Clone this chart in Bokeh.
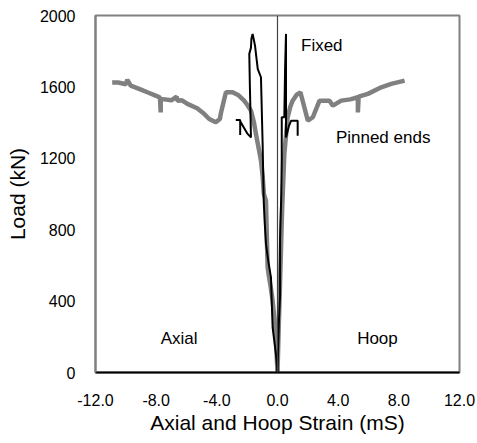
from bokeh.plotting import figure
from bokeh.models import Range1d, Span, Label, FixedTicker
from bokeh.embed import file_html
from bokeh.resources import INLINE

# ---- data ----
pinned_axial_strain = [0, -0.1, -0.2, -0.32, -0.45, -0.55, -0.65, -0.7, -0.76, -0.9, -0.98, -1.09, -1.25,
                       -1.42, -1.55, -1.75, -2.0, -2.2, -2.6, -2.96, -3.4, -3.6, -3.74, -3.8, -4.07, -4.5,
                       -4.84, -5.3, -5.94, -6.3, -6.6, -6.65, -7.0, -7.7, -7.7, -7.75, -8.0, -8.58, -9.0,
                       -9.68, -9.9, -10.0, -10.5, -10.9]
pinned_axial_load = [0, 177, 300, 401, 480, 530, 588, 750, 962, 1000, 1100, 1187, 1260,
                     1336, 1400, 1467, 1500, 1523, 1555, 1570, 1570, 1500, 1449, 1420, 1402, 1420,
                     1449, 1480, 1505, 1525, 1523, 1545, 1525, 1533, 1457, 1540, 1550, 1570, 1585,
                     1607, 1640, 1615, 1625, 1624]

pinned_hoop_strain = [0, 0.08, 0.2, 0.3, 0.45, 0.67, 0.85, 1.0, 1.25, 1.51, 1.77, 2.0, 2.33, 2.77,
                      3.43, 3.65, 4.2, 4.8, 5.3, 5.3, 5.35, 5.96, 6.84, 7.5, 8.38]
pinned_hoop_load = [0, 250, 600, 900, 1224, 1430, 1490, 1523, 1555, 1570, 1486, 1411, 1430, 1523,
                    1523, 1495, 1523, 1530, 1542, 1457, 1545, 1561, 1598, 1617, 1635]

fixed_axial_strain = [0, -0.1, -0.32, -0.38, -0.43, -0.6, -0.76, -0.85, -0.91, -0.98, -1.09, -1.3,
                      -1.42, -1.48, -1.55, -1.64, -1.72, -1.75, -1.86, -1.82, -1.78, -1.75, -2.0,
                      -2.46, -2.46, -2.46, -2.75]
fixed_axial_load = [0, 100, 251, 400, 532, 620, 719, 850, 962, 1280, 1654, 1700,
                    1785, 1830, 1860, 1897, 1870, 1820, 1785, 1600, 1450, 1317, 1340,
                    1408, 1330, 1415, 1415]

fixed_hoop_strain = [0, 0.1, 0.17, 0.17, 0.25, 0.28, 0.28, 0.45, 0.5, 0.56, 0.56, 0.56, 0.75,
                     0.9, 1.33, 1.33]
fixed_hoop_load = [0, 300, 430, 750, 1000, 1200, 1430, 1430, 1700, 1897, 1600, 1317, 1380,
                   1411, 1411, 1327]

x_ticks = [-12, -8, -4, 0, 4, 8, 12]
x_tick_labels = ["-12.0", "-8.0", "-4.0", "0.0", "4.0", "8.0", "12.0"]
y_ticks = [0, 400, 800, 1200, 1600, 2000]
y_tick_labels = ["0", "400", "800", "1200", "1600", "2000"]

FONT = "Liberation Sans"

p = figure(width=477, height=443, output_backend="svg", toolbar_location=None,
           x_range=Range1d(-12, 12), y_range=Range1d(0, 2000),
           min_border_left=95, min_border_right=18, min_border_top=15, min_border_bottom=71)
p.background_fill_color = "white"
p.border_fill_color = "white"
p.outline_line_color = "#808080"
p.outline_line_width = 2
p.xgrid.visible = False
p.ygrid.visible = False

# axes
p.xaxis.ticker = FixedTicker(ticks=x_ticks)
p.xaxis.major_label_overrides = dict(zip(x_ticks, x_tick_labels))
p.yaxis.ticker = FixedTicker(ticks=y_ticks)
p.yaxis.major_label_overrides = dict(zip(y_ticks, y_tick_labels))
for ax in (p.xaxis[0], p.yaxis[0]):
    ax.major_tick_line_color = None
    ax.minor_tick_line_color = None
    ax.major_label_text_font = FONT
    ax.major_label_text_font_size = "16px"
    ax.major_label_text_color = "black"
    ax.axis_label_text_font = FONT
    ax.axis_label_text_font_size = "21px"
    ax.axis_label_text_font_style = "normal"
    ax.axis_label_text_color = "black"
p.xaxis.axis_line_color = "black"
p.xaxis.axis_line_width = 2
p.yaxis.axis_line_color = "#808080"
p.yaxis.axis_line_width = 2
p.xaxis.axis_label = "Axial and Hoop Strain (mS)"
p.yaxis.axis_label = "Load (kN)"
p.xaxis.major_label_standoff = 15
p.xaxis.axis_label_standoff = 2
p.yaxis.major_label_standoff = 14
p.yaxis.axis_label_standoff = 8

# zero line
p.add_layout(Span(location=0, dimension="height", line_color="#444444", line_width=1.2))

# curves
GRAY = "#808080"
p.line(pinned_axial_strain, pinned_axial_load, line_color=GRAY, line_width=4.5)
p.line(pinned_hoop_strain, pinned_hoop_load, line_color=GRAY, line_width=4.5)
p.line(fixed_axial_strain, fixed_axial_load, line_color="black", line_width=2)
p.line(fixed_hoop_strain, fixed_hoop_load, line_color="black", line_width=2)

# annotations
def lbl(text, x, y, size="17px", align="left"):
    p.add_layout(Label(x=x, y=y, text=text, text_font=FONT, text_font_size=size,
                       text_align=align, text_baseline="middle", text_color="black"))

lbl("Fixed", 1.55, 1832)
lbl("Pinned ends", 3.85, 1315)
lbl("Axial", -7.7, 188)
lbl("Hoop", 5.25, 188)

open("out.html", "w").write(file_html(p, INLINE))
